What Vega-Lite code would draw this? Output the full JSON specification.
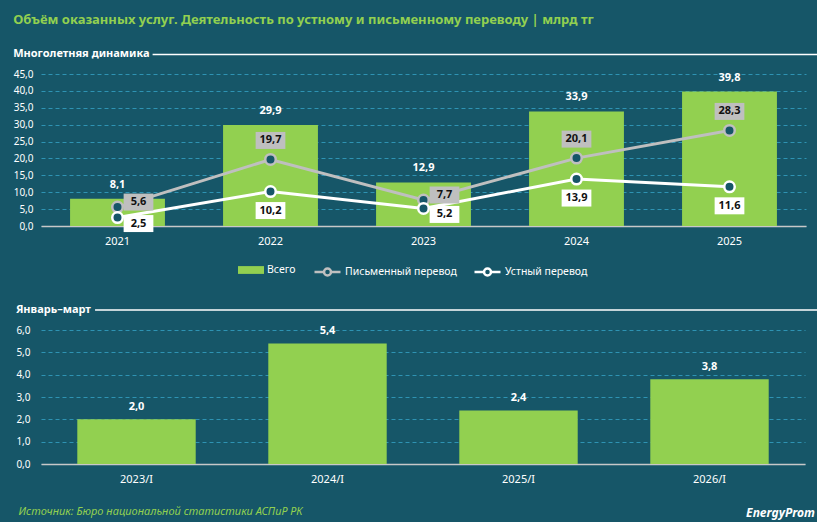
{
  "$schema": "https://vega.github.io/schema/vega-lite/v6.json",
  "padding": {"left": 13, "top": 13, "right": 10, "bottom": 4},
  "background": "#165668",
  "title": {
    "text": "Объём оказанных услуг. Деятельность по устному и письменному переводу | млрд тг",
    "anchor": "start",
    "frame": "bounds",
    "color": "#92d050",
    "font": "Noto Sans",
    "fontSize": 13,
    "fontWeight": "bold",
    "offset": 21
  },
  "spacing": 23,
  "datasets": {
    "totals": [
      {"year": "2021", "value": 8.1},
      {"year": "2022", "value": 29.9},
      {"year": "2023", "value": 12.9},
      {"year": "2024", "value": 33.9},
      {"year": "2025", "value": 39.8}
    ],
    "lines": [
      {"year": "2021", "series": "Письменный перевод", "value": 5.6},
      {"year": "2022", "series": "Письменный перевод", "value": 19.7},
      {"year": "2023", "series": "Письменный перевод", "value": 7.7},
      {"year": "2024", "series": "Письменный перевод", "value": 20.1},
      {"year": "2025", "series": "Письменный перевод", "value": 28.3},
      {"year": "2021", "series": "Устный перевод", "value": 2.5},
      {"year": "2022", "series": "Устный перевод", "value": 10.2},
      {"year": "2023", "series": "Устный перевод", "value": 5.2},
      {"year": "2024", "series": "Устный перевод", "value": 13.9},
      {"year": "2025", "series": "Устный перевод", "value": 11.6}
    ],
    "quarter": [
      {"period": "2023/I", "value": 2.0},
      {"period": "2024/I", "value": 5.4},
      {"period": "2025/I", "value": 2.4},
      {"period": "2026/I", "value": 3.8}
    ]
  },
  "vconcat": [
    {
      "title": {
        "text": "Многолетняя динамика",
        "anchor": "start",
        "frame": "bounds",
        "color": "white",
        "fontSize": 11,
        "fontWeight": "bold",
        "offset": -5
      },
      "width": 765,
      "height": 152,
      "layer": [
        {
          "encoding": {
            "x": {
              "field": "year",
              "type": "nominal",
              "scale": {"paddingInner": 0.38, "paddingOuter": 0.19},
              "axis": {"labelAngle": 0, "labelFontSize": 11, "labelPadding": 9, "domain": true, "domainColor": "#c8c8c8", "domainWidth": 1.5}
            },
            "y": {
              "field": "value",
              "type": "quantitative",
              "scale": {"domain": [0, 45]},
              "axis": {"values": [0, 5, 10, 15, 20, 25, 30, 35, 40, 45], "format": ".1f", "grid": true, "gridColor": "#2e93b3", "gridDash": [4, 3], "labelPadding": 8, "labelOverlap": false}
            }
          },
          "layer": [
            {
              "data": {"name": "totals"},
              "mark": {"type": "bar", "color": "#92d050"},
              "encoding": {
                "fill": {
                  "datum": "Всего",
                  "scale": {"domain": ["Всего"], "range": ["#92d050"]},
                  "legend": {
                    "orient": "none",
                    "legendX": 197,
                    "legendY": 183,
                    "direction": "horizontal",
                    "title": null,
                    "labelColor": "white",
                    "labelFontSize": 10.5,
                    "symbolType": "M-1,-0.3H1V0.3H-1Z",
                    "symbolSize": 676,
                    "symbolStrokeWidth": 0,
                    "labelOffset": 3
                  }
                }
              }
            },
            {
              "data": {"name": "lines"},
              "mark": {"type": "line", "strokeWidth": 3},
              "encoding": {
                "stroke": {
                  "field": "series",
                  "type": "nominal",
                  "scale": {"domain": ["Письменный перевод", "Устный перевод"], "range": ["#bfbfbf", "#ffffff"]},
                  "legend": {
                    "orient": "none",
                    "legendX": 272,
                    "legendY": 183,
                    "direction": "horizontal",
                    "title": null,
                    "labelColor": "white",
                    "labelFontSize": 10.5,
                    "symbolType": "M-1,0H-0.27A0.27,0.27 0 1,1 0.27,0H1M0.27,0A0.27,0.27 0 1,1 -0.27,0",
                    "symbolSize": 676,
                    "symbolStrokeWidth": 2.5,
                    "symbolFillColor": "#165668",
                    "labelOffset": 3,
                    "columnPadding": 12
                  }
                }
              }
            },
            {
              "data": {"name": "lines"},
              "mark": {"type": "point", "shape": "circle", "size": 110, "filled": false, "fill": "#165668", "fillOpacity": 1, "opacity": 1, "strokeWidth": 2.5},
              "encoding": {
                "stroke": {"field": "series", "type": "nominal"}
              }
            },
            {
              "data": {"name": "totals"},
              "mark": {"type": "text", "color": "white", "fontWeight": "bold", "fontSize": 11, "baseline": "middle", "dy": -14},
              "encoding": {
                "text": {"field": "value", "type": "quantitative", "format": ".1f"}
              }
            },
            {
              "data": {"name": "lines"},
              "mark": {
                "type": "point",
                "shape": "M-1.75,-1H1.75V1H-1.75Z",
                "size": 289,
                "filled": true,
                "opacity": 1,
                "strokeWidth": 0,
                "fill": {"expr": "datum.series == 'Письменный перевод' ? '#bfbfbf' : '#ffffff'"},
                "xOffset": {"expr": "(datum.year == '2021' || datum.year == '2023') ? 21 : 0"},
                "yOffset": {"expr": "datum.series == 'Письменный перевод' ? ((datum.year == '2021' || datum.year == '2023') ? -5 : -19) : ((datum.year == '2021' || datum.year == '2023') ? 6 : 19)"}
              }
            },
            {
              "data": {"name": "lines"},
              "mark": {
                "type": "text",
                "color": "#111111",
                "fontWeight": "bold",
                "fontSize": 11,
                "baseline": "middle",
                "dx": {"expr": "(datum.year == '2021' || datum.year == '2023') ? 21 : 0"},
                "dy": {"expr": "datum.series == 'Письменный перевод' ? ((datum.year == '2021' || datum.year == '2023') ? -5 : -19) : ((datum.year == '2021' || datum.year == '2023') ? 6 : 19)"}
              },
              "encoding": {
                "text": {"field": "value", "type": "quantitative", "format": ".1f"}
              }
            }
          ]
        },
        {
          "data": {"values": [{}]},
          "mark": {"type": "rule", "color": "white", "strokeWidth": 1.5},
          "encoding": {
            "x": {
              "datum": "2021",
              "bandPosition": 0.87,
              "axis": {"labelAngle": 0, "labelFontSize": 11, "labelPadding": 9, "domain": true, "domainColor": "#c8c8c8", "domainWidth": 1.5}
            },
            "x2": {"datum": "2025", "bandPosition": 1.45},
            "y": {
              "datum": 50.8,
              "axis": {"values": [0, 5, 10, 15, 20, 25, 30, 35, 40, 45], "format": ".1f", "grid": true, "gridColor": "#2e93b3", "gridDash": [4, 3], "labelPadding": 8, "labelOverlap": false}
            }
          }
        }
      ]
    },
    {
      "title": {
        "text": "Январь–март",
        "anchor": "start",
        "frame": "bounds",
        "color": "white",
        "fontSize": 11,
        "fontWeight": "bold",
        "offset": -6
      },
      "width": 764,
      "height": 134,
      "layer": [
        {
          "data": {"name": "quarter"},
          "encoding": {
            "x": {
              "field": "period",
              "type": "nominal",
              "scale": {"paddingInner": 0.38, "paddingOuter": 0.19},
              "axis": {
                "labelAngle": 0, "labelFontSize": 11, "labelPadding": 9, "domain": true, "domainColor": "#c8c8c8", "domainWidth": 1.5,
                "title": "Источник: Бюро национальной статистики АСПиР РК",
                "titleColor": "#92d050", "titleFontStyle": "italic", "titleFontWeight": "normal", "titleFontSize": 11,
                "titleAlign": "left", "titleBaseline": "middle", "titleX": -23, "titleY": 47
              }
            },
            "y": {
              "field": "value",
              "type": "quantitative",
              "scale": {"domain": [0, 6]},
              "axis": {"values": [0, 1, 2, 3, 4, 5, 6], "format": ".1f", "grid": true, "gridColor": "#2e93b3", "gridDash": [4, 3], "labelPadding": 11}
            }
          },
          "layer": [
            {
              "mark": {"type": "bar", "color": "#92d050"}
            },
            {
              "mark": {"type": "text", "color": "white", "fontWeight": "bold", "fontSize": 11, "baseline": "middle", "dy": -12},
              "encoding": {
                "text": {"field": "value", "type": "quantitative", "format": ".1f"}
              }
            }
          ]
        },
        {
          "data": {"values": [{}]},
          "mark": {"type": "rule", "color": "white", "strokeWidth": 1.5},
          "encoding": {
            "x": {
              "datum": "2023/I",
              "bandPosition": 0.15,
              "axis": {
                "labelAngle": 0, "labelFontSize": 11, "labelPadding": 9, "domain": true, "domainColor": "#c8c8c8", "domainWidth": 1.5,
                "title": "Источник: Бюро национальной статистики АСПиР РК",
                "titleColor": "#92d050", "titleFontStyle": "italic", "titleFontWeight": "normal", "titleFontSize": 11,
                "titleAlign": "left", "titleBaseline": "middle", "titleX": -23, "titleY": 47
              }
            },
            "x2": {"datum": "2026/I", "bandPosition": 1.45},
            "y": {
              "datum": 6.9,
              "axis": {
                "orient": "right", "labels": false, "grid": false, "domain": false, "ticks": false,
                "title": "EnergyProm", "titleColor": "white", "titleFontStyle": "italic", "titleFontWeight": "bold",
                "titleFontSize": 12, "titleAngle": 0, "titleAlign": "center", "titleBaseline": "middle",
                "titleX": -25, "titleY": 182
              }
            }
          }
        }
      ],
      "resolve": {"axis": {"y": "independent"}}
    }
  ],
  "resolve": {"legend": {"fill": "independent", "stroke": "independent"}},
  "config": {
    "font": "Noto Sans",
    "view": {"stroke": null},
    "locale": {"number": {"decimal": ",", "thousands": " ", "grouping": [3], "currency": ["", ""]}},
    "axis": {"labelColor": "white", "labelFontSize": 10, "grid": false, "ticks": false, "domain": false, "title": null},
    "legend": {"labelFont": "Noto Sans"}
  }
}
